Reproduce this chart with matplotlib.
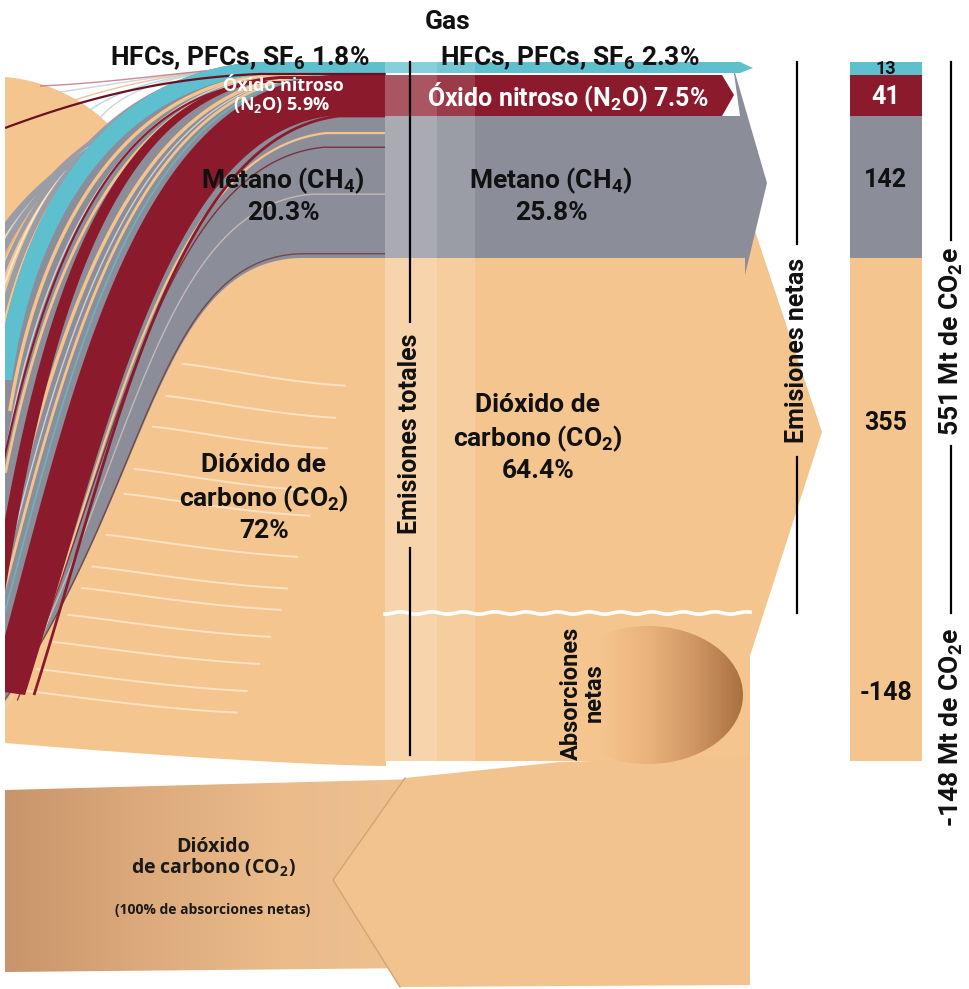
import numpy as np
import matplotlib
matplotlib.use('Agg')
import matplotlib.pyplot as plt
from matplotlib.patches import Polygon, Rectangle, Ellipse
from matplotlib.colors import LinearSegmentedColormap

plt.rcParams['mathtext.default'] = 'regular'

# Greenhouse-gas inventory, Mt CO2e
gas_labels_total = ['HFCs, PFCs, SF$_6$', 'Óxido nitroso', 'Metano (CH$_4$)', 'Dióxido de\ncarbono (CO$_2$)']
gas_labels_net = ['HFCs, PFCs, SF$_6$', 'Óxido nitroso (N$_2$O)', 'Metano (CH$_4$)', 'Dióxido de\ncarbono (CO$_2$)']
net_emissions = [13, 41, 142, 355]          # HFC, N2O, CH4, CO2
net_absorptions = -148                      # CO2 removals
share_total = [1.8, 5.9, 20.3, 72]          # % of total emissions
share_net = [2.3, 7.5, 25.8, 64.4]          # % of net emissions
net_total_label = '551 Mt de CO$_2$e'
absorption_label = '-148 Mt de CO$_2$e'

gas_colors = ['#5ebfce', '#8b1a2c', '#8b8d98', '#f5c58f']
ORANGE = gas_colors[3]

COND = ['Roboto', 'DejaVu Sans']
HUMAN = ['Open Sans', 'DejaVu Sans']

fig = plt.figure(figsize=(9.69, 9.89), dpi=100)
ax = fig.add_axes([0, 0, 1, 1])
ax.set_xlim(0, 969)
ax.set_ylim(989, 0)
ax.axis('off')

# vertical layout: one pixel per Mt, stacked from the top
Y0 = 62
edges = Y0 + np.concatenate([[0], np.cumsum(net_emissions)])   # 62,75,116,258,613
abs_bottom = edges[-1] + abs(net_absorptions)                    # 761
XL, XM, XR = 5, 385, 748          # left edge, column start, arrow base


def bez(p0, p1, p2, p3, n=120):
    t = np.linspace(0, 1, n)[:, None]
    p0, p1, p2, p3 = map(np.asarray, (p0, p1, p2, p3))
    return (1 - t) ** 3 * p0 + 3 * (1 - t) ** 2 * t * p1 + 3 * (1 - t) * t ** 2 * p2 + t ** 3 * p3


def curve(ctrl, x_end=XM + 1):
    pts = bez(*ctrl)
    if x_end is not None:
        pts = np.vstack([pts, [x_end, pts[-1, 1]]])
    return pts


left_clip = Rectangle((XL, 0), XM + 1 - XL, 989, transform=ax.transData)


def add_clipped(patch):
    ax.add_patch(patch)
    patch.set_clip_path(left_clip)
    return patch


def ribbon(outer, inner, color, alpha=1.0, z=2):
    a = curve(outer)
    b = curve(inner)
    return add_clipped(Polygon(np.vstack([a, b[::-1]]), closed=True, fc=color, ec='none', alpha=alpha, zorder=z))


def streak(ctrl, color, lw, alpha=1.0, z=2.5, x_end=XM + 1):
    pts = curve(ctrl, x_end)
    ln, = ax.plot(pts[:, 0], pts[:, 1], color=color, lw=lw, alpha=alpha, zorder=z, solid_capstyle='butt')
    ln.set_clip_path(left_clip)


def blend(c1, c2, f):
    return [tuple((1 - f) * np.asarray(a) + f * np.asarray(b)) for a, b in zip(c1, c2)]


def gradient_fill(patch, x0, x1, y0, y1, colors, z):
    patch.set_facecolor('none')
    patch.set_edgecolor('none')
    ax.add_patch(patch)
    cmap = LinearSegmentedColormap.from_list('g', colors)
    grad = np.linspace(0, 1, 256)[None, :]
    im = ax.imshow(grad, cmap=cmap, extent=(x0, x1, y1, y0), aspect='auto', zorder=z, interpolation='bilinear')
    im.set_clip_path(patch)


# ---------------- left: flows of total emissions -----------------
cyan_out = [(-5, 380), (20, 200), (110, 70), (260, Y0)]
cyan_in = [(12, 380), (35, 215), (120, 88), (260, edges[1])]
red_out = [(-10, 690), (68, 415), (125, 90), (330, edges[1])]
red_in = [(25, 695), (108, 432), (165, 136), (330, edges[2])]
redthin_out = [(-15, 640), (32, 330), (95, 88), (280, edges[1] + 1)]
redthin_in = [(-3, 643), (44, 335), (106, 94), (280, edges[1] + 4)]
co2_edge = [(-10, 720), (150, 510), (150, edges[3] + 4), (300, edges[3])]
crescent = [(XL, 77), (45, 80), (85, 100), (109, 125)]

# orange base with the white wedge above the crescent
cres = bez(*crescent)
top = bez(*cyan_out)
top = top[top[:, 0] >= 109]
bottom = bez((XM + 1, 766), (300, 765), (150, 755), (XL, 743))
base = np.vstack([cres, top, [[XM + 1, Y0], [XM + 1, 766]], bottom])
add_clipped(Polygon(base, closed=True, fc=ORANGE, ec='none', zorder=1))

# gray methane field between the cyan band and the CO2 boundary
g_top = curve(cyan_out)
g_bot = curve(co2_edge)
gray_poly = np.vstack([g_top, [[XM + 1, edges[3]]], g_bot[::-1], [[XL - 10, 720]]])
add_clipped(Polygon(gray_poly, closed=True, fc=gas_colors[2], ec='none', zorder=1.5))

# streaks left of the cyan band
for k, (col, lw, al) in enumerate([('#9a9ca6', 4, 1), ('#ffffff', 1.2, .6), ('#9a9ca6', 3, 1),
                                     ('#e8b27c', 1.5, 1), ('#9a9ca6', 5, 1), ('#ffffff', 1.2, .5),
                                     ('#9a9ca6', 3, 1), ('#9a9ca6', 4, 1)]):
    d = 7 + 9 * k
    c = [(p[0] - d, p[1] + d * 0.9) for p in cyan_out]
    streak(c, col, lw, al, z=1.2)

# streaks between cyan and red bands
for f, col, lw, al in [(0.1, '#f3c48e', 2.5, 1), (0.2, '#ffffff', 1.0, .6), (0.3, '#f3c48e', 2, 1),
                       (0.62, '#f3c48e', 2.5, 1), (0.72, '#ffffff', 1.0, .6), (0.8, '#f3c48e', 2, 1),
                       (0.9, '#5ebfce', 1.2, .8)]:
    streak(blend(cyan_in, red_out, f), col, lw, al)

# a few fine lines between the thick red band and the CO2 field
for f, col, lw, al in [(0.12, '#f3c48e', 1.6, 1), (0.22, '#7a1a2a', 1.0, .8),
                       (0.55, '#e9d8c8', 1.0, .6), (0.97, '#6b2a2a', 1.0, .7)]:
    streak(blend(red_in, co2_edge, f), col, lw, al)

# thin light arcs inside the CO2 field
co2_pts = bez(*co2_edge)
for s in [0.62, 0.55, 0.49, 0.42, 0.37, 0.31, 0.26, 0.22, 0.18, 0.14, 0.1, 0.06]:
    i = int(s * (len(co2_pts) - 1))
    xs, ys = co2_pts[i]
    ys += 8
    xs += 6
    length = 130 + 90 * (1 - s)
    ctrl = [(xs, ys), (xs + 40, ys + 4), (xs + length * 0.6, ys + 18), (xs + length, ys + 22)]
    streak(ctrl, '#fff4e6', 1.4, 0.6, z=1.6, x_end=None)

# red and cyan ribbons
ribbon(redthin_out, redthin_in, gas_colors[1], z=3)
ribbon(red_out, red_in, gas_colors[1], z=3)
streak([(p[0] + 9, p[1]) for p in red_in], gas_colors[1], 2.0, 1, z=3)
streak([(p[0] - 14, p[1] + 6) for p in redthin_out], gas_colors[1], 1.5, 1, z=3)
ribbon(cyan_out, cyan_in, gas_colors[0], z=3.2)

# fine lines across the white wedge
streak([(XL, 128), (80, 100), (160, 78), (260, 74)], '#6b1020', 1.6, 1, z=3.3)
for (x0, y0), col in [((60, 92), '#c9c9cf'), ((75, 100), '#e7b587'), ((90, 110), '#a0d2dc'),
                      ((100, 118), '#c9c9cf'), ((40, 86), '#b87080')]:
    streak([(x0, y0), (130, 82), (200, 68), (300, 64)], col, 1.0, 0.8, z=1.1, x_end=None)

# ---------------- middle: net flows -----------------
ax.add_patch(Polygon([(XM, edges[3]), (XR, edges[3]), (XR, 210), (822, 432), (XR, 662),
                      (XR, edges[4]), (XM, edges[4])], closed=True, fc=ORANGE, ec='none', zorder=4))
ax.add_patch(Polygon([(XM, edges[2]), (740, edges[2]), (733, 66), (767, 183), (745, 275),
                      (745, edges[3]), (XM, edges[3])], closed=True, fc=gas_colors[2], ec='none', zorder=4.1))
ax.add_patch(Polygon([(XM, edges[1]), (722, edges[1]), (734, 95), (722, edges[2]), (XM, edges[2])],
                     closed=True, fc=gas_colors[1], ec='none', zorder=4.2))
ax.add_patch(Polygon([(XM, edges[0]), (740, edges[0]), (753, 68), (740, edges[1] - 2), (XM, edges[1] - 2)],
                     closed=True, fc=gas_colors[0], ec='none', zorder=4.3))

# absorption fold
ax.add_patch(Rectangle((XM, edges[4]), XR + 2 - XM, abs_bottom - edges[4], fc=ORANGE, ec='none', zorder=4))
ax.add_patch(Rectangle((740, edges[4]), 10, 985 - edges[4], fc=ORANGE, ec='none', zorder=4))
gradient_fill(Ellipse((648, 695), 190, 138), 553, 743, 626, 764,
              [ORANGE, ORANGE, '#eab27c', '#cf9664', '#a9713f'], z=4.5)
wx = np.linspace(XM, XR + 2, 300)
ax.plot(wx, edges[4] + 1.2 * np.sin(wx / 5.0), color='white', lw=2.6, zorder=4.6)

# lighter "total emissions" column
ax.add_patch(Rectangle((XM, Y0), 90, abs_bottom - Y0, fc='white', alpha=0.14, ec='none', zorder=4.7))
ax.add_patch(Rectangle((XM, Y0), 52, abs_bottom - Y0, fc='white', alpha=0.14, ec='none', zorder=4.7))

# ---------------- bottom: arrow of removals -----------------
body = Polygon([(XL, 790), (420, 779), (420, 968), (XL, 972)], closed=True)
gradient_fill(body, XL, 420, 779, 972, ['#c8946b', '#dcaa7c', '#ebbb8a', '#efc290'], z=4)
head = [(405, 778), (560, 762), (XR + 2, 756), (XR + 2, 985), (400, 987), (333, 880)]
ax.add_patch(Polygon(head, closed=True, fc='#f2c38e', ec='none', zorder=4.2))
ax.plot([405, 333, 400], [778, 880, 987], color='#d6a272', lw=1.0, zorder=4.3)

# ---------------- right: stacked net balance -----------------
bar_x, bar_w = 886, 72
ax.bar([bar_x] * 4, net_emissions, bottom=edges[:-1], width=bar_w, color=gas_colors, zorder=4)
ax.bar(bar_x, abs(net_absorptions), bottom=edges[-1], width=bar_w, color=ORANGE, zorder=4)

val_style = dict(family=COND, weight='bold', ha='center', va='center', zorder=6)
ax.text(bar_x, (edges[0] + edges[1]) / 2 + 1, f'{net_emissions[0]}', fontsize=13, color='#111111', **val_style)
ax.text(bar_x, (edges[1] + edges[2]) / 2 + 2, f'{net_emissions[1]}', fontsize=18, color='white', **val_style)
ax.text(bar_x, 180, f'{net_emissions[2]}', fontsize=18, color='#111111', **val_style)
ax.text(bar_x, 423, f'{net_emissions[3]}', fontsize=18, color='#111111', **val_style)
ax.text(bar_x, 693, f'{net_absorptions}', fontsize=18, color='#111111', **val_style)

# ---------------- labels -----------------
lab = dict(family=COND, weight='bold', ha='center', va='center', zorder=6)
ax.text(448, 22, 'Gas', fontsize=19, color='#111111', **lab)
ax.text(240, 58, f'{gas_labels_total[0]} {share_total[0]}%', fontsize=19, color='#111111', **lab)
ax.text(570, 58, f'{gas_labels_net[0]} {share_net[0]}%', fontsize=19, color='#111111', **lab)
ax.text(283, 86, gas_labels_total[1], fontsize=13, color='white', family=HUMAN, weight='bold',
        ha='center', va='center', zorder=6)
ax.text(282, 105, f'(N$_2$O) {share_total[1]}%', fontsize=13, color='white', family=HUMAN, weight='bold',
        ha='center', va='center', zorder=6)
ax.text(568, 97, f'{gas_labels_net[1]} {share_net[1]}%', fontsize=18, color='white', **lab)
ax.text(283, 195, f'{gas_labels_total[2]}\n{share_total[2]}%', fontsize=19, color='#111111',
        linespacing=1.25, **lab)
ax.text(551, 195, f'{gas_labels_net[2]}\n{share_net[2]}%', fontsize=19, color='#111111',
        linespacing=1.25, **lab)
ax.text(264, 498, f'{gas_labels_total[3]}\n{share_total[3]}%', fontsize=19, color='#111111',
        linespacing=1.25, **lab)
ax.text(538, 438, f'{gas_labels_net[3]}\n{share_net[3]}%', fontsize=19, color='#111111',
        linespacing=1.25, **lab)

rot = dict(family=COND, weight='bold', ha='center', va='center', rotation=90,
           rotation_mode='anchor', color='#111111', zorder=6)
ax.text(410, 434, 'Emisiones totales', fontsize=18, **rot)
ax.plot([410, 410], [Y0, 322], color='black', lw=1.6, zorder=6)
ax.plot([410, 410], [548, 755], color='black', lw=1.6, zorder=6)

ax.text(797, 350, 'Emisiones netas', fontsize=18, **rot)
ax.plot([797, 797], [Y0, 244], color='black', lw=1.6, zorder=6)
ax.plot([797, 797], [457, edges[4]], color='black', lw=1.6, zorder=6)

ax.text(583, 693, 'Absorciones\nnetas', fontsize=17, multialignment='center', linespacing=1.0, **rot)

ax.text(951, 342, net_total_label, fontsize=19, **rot)
ax.plot([951, 951], [Y0, 240], color='black', lw=1.6, zorder=6)
ax.plot([951, 951], [446, edges[4]], color='black', lw=1.6, zorder=6)
ax.text(951, 727, absorption_label, fontsize=19, **rot)

ax.text(213, 847, 'Dióxido', fontsize=14, family=HUMAN, weight='bold', ha='center', va='center',
        color='#1a1a1a', zorder=6)
ax.text(213, 868, 'de carbono (CO$_2$)', fontsize=14, family=HUMAN, weight='bold', ha='center',
        va='center', color='#1a1a1a', zorder=6)
ax.text(213, 910, '(100% de absorciones netas)', fontsize=10, family=HUMAN, weight='bold',
        ha='center', va='center', color='#1a1a1a', zorder=6)

ax.set_xlim(0, 969)
ax.set_ylim(989, 0)
fig.savefig('out.png', dpi=100, facecolor='white')
